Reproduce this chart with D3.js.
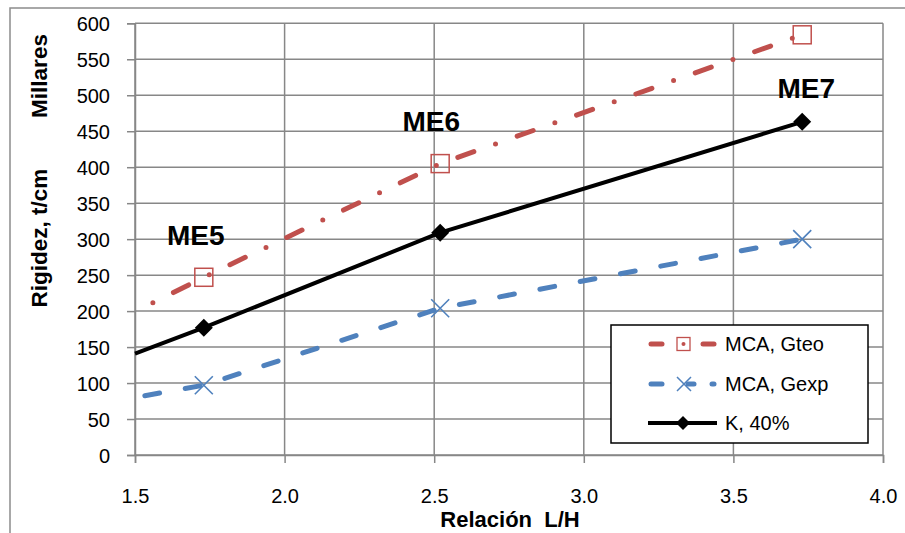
<!DOCTYPE html>
<html><head><meta charset="utf-8">
<script src="https://cdn.jsdelivr.net/npm/d3@7"></script>
<style>body{margin:0;background:#fff}svg{display:block}text{font-family:"Liberation Sans",Arial,sans-serif}</style>
</head><body><svg id="c" width="905" height="533"></svg>
<script>
// ---- data ----
const xTicks = [1.5, 2.0, 2.5, 3.0, 3.5, 4.0];
const yTicks = [0, 50, 100, 150, 200, 250, 300, 350, 400, 450, 500, 550, 600];
const xStart = 1.5;                       // start of drawn lines (no marker)
const xPoints = [1.73, 2.52, 3.73];       // L/H ratio for ME5, ME6, ME7
const pointLabels = ["ME5", "ME6", "ME7"];
const gteoStart = 199, gteo = [247, 405, 584];   // MCA, Gteo (millares t/cm)
const gexpStart = 80,  gexp = [97, 204, 300];    // MCA, Gexp
const kStart = 141,    k40 = [177, 309, 463];    // K, 40%
const seriesNames = ["MCA, Gteo", "MCA, Gexp", "K, 40%"];

const svg = d3.select("#c");
const x = d3.scaleLinear().domain([1.5, 4.0]).range([135, 883]);
const y = d3.scaleLinear().domain([0, 600]).range([455, 23.3]);
const RED = "#C0504D", BLUE = "#4F81BD", GRID = "#878787";

// outer frame
svg.append("rect").attr("x", 10).attr("y", 8).attr("width", 1000).attr("height", 1000)
  .attr("fill", "none").attr("stroke", "#8c8c8c").attr("stroke-width", 1.5);

// gridlines
svg.append("g").selectAll("line").data(yTicks).join("line")
  .attr("x1", x(1.5)).attr("x2", x(4.0)).attr("y1", d => y(d)).attr("y2", d => y(d))
  .attr("stroke", GRID).attr("stroke-width", 1.5);
svg.append("g").selectAll("line").data(xTicks).join("line")
  .attr("x1", d => x(d)).attr("x2", d => x(d)).attr("y1", y(600)).attr("y2", y(0))
  .attr("stroke", GRID).attr("stroke-width", 1.5);

// axes
const yAxis = svg.append("g").attr("transform", `translate(${x(1.5)},0)`)
  .call(d3.axisLeft(y).tickValues(yTicks).tickSize(8).tickPadding(17).tickFormat(d3.format("d")));
const xAxis = svg.append("g").attr("transform", `translate(0,${y(0)})`)
  .call(d3.axisBottom(x).tickValues(xTicks).tickSize(8).tickPadding(26).tickFormat(d3.format(".1f")));
[yAxis, xAxis].forEach(a => {
  a.select(".domain").attr("stroke", GRID).attr("stroke-width", 1.5);
  a.selectAll(".tick line").attr("stroke", GRID).attr("stroke-width", 1.5);
  a.selectAll(".tick text").attr("font-size", 20).attr("fill", "#000")
    .attr("font-family", "Liberation Sans, Arial, sans-serif");
});
yAxis.selectAll(".tick text").attr("dy", "0.36em");

// axis titles
svg.append("text").attr("transform", "translate(47,238) rotate(-90)")
  .attr("text-anchor", "middle").attr("font-weight", "bold").attr("font-size", 22.5).text("Rigidez, t/cm");
svg.append("text").attr("transform", "translate(47,76) rotate(-90)")
  .attr("text-anchor", "middle").attr("font-weight", "bold").attr("font-size", 22.5).text("Millares");
svg.append("text").attr("x", 510).attr("y", 527).attr("text-anchor", "middle")
  .attr("font-weight", "bold").attr("font-size", 22).attr("xml:space", "preserve").text("Relación  L/H");

// series
const mk = (s, v) => [[xStart, s]].concat(xPoints.map((p, i) => [p, v[i]]));
const line = d3.line().x(d => x(d[0])).y(d => y(d[1]));

svg.append("path").datum(mk(gteoStart, gteo)).attr("d", line).attr("fill", "none")
  .attr("stroke", RED).attr("stroke-width", 5).attr("stroke-linecap", "round")
  .attr("stroke-dasharray", "0,23,17,23").attr("stroke-dashoffset", 43);
svg.append("path").datum(mk(gexpStart, gexp)).attr("d", line).attr("fill", "none")
  .attr("stroke", BLUE).attr("stroke-width", 5).attr("stroke-linecap", "round")
  .attr("stroke-dasharray", "15,26").attr("stroke-dashoffset", 31);
svg.append("path").datum(mk(kStart, k40)).attr("d", line).attr("fill", "none")
  .attr("stroke", "#000").attr("stroke-width", 4).attr("stroke-linejoin", "round");

// markers
const sq = 18;
svg.append("g").selectAll("rect").data(xPoints.map((p, i) => [p, gteo[i]])).join("rect")
  .attr("x", d => x(d[0]) - sq / 2).attr("y", d => y(d[1]) - sq / 2).attr("width", sq).attr("height", sq)
  .attr("fill", "none").attr("stroke", RED).attr("stroke-width", 1.5);
svg.append("g").selectAll("path").data(xPoints.map((p, i) => [p, gexp[i]])).join("path")
  .attr("d", d => { const cx = x(d[0]), cy = y(d[1]), h = 9;
    return `M${cx - h},${cy - h}L${cx + h},${cy + h}M${cx - h},${cy + h}L${cx + h},${cy - h}`; })
  .attr("stroke", BLUE).attr("stroke-width", 1.6).attr("fill", "none");
svg.append("g").selectAll("path").data(xPoints.map((p, i) => [p, k40[i]])).join("path")
  .attr("d", d => { const cx = x(d[0]), cy = y(d[1]), h = 9;
    return `M${cx},${cy - h}L${cx + h},${cy}L${cx},${cy + h}L${cx - h},${cy}Z`; })
  .attr("fill", "#000");

// point labels (anchored above the Gteo point for ME5/ME6 and the K point for ME7)
const labelAnchor = [gteo[0], gteo[1], k40[2]];
const labelOffsets = [[-8, -32], [-9, -33], [4, -24]];
svg.append("g").selectAll("text").data(pointLabels).join("text")
  .attr("x", (d, i) => x(xPoints[i]) + labelOffsets[i][0])
  .attr("y", (d, i) => y(labelAnchor[i]) + labelOffsets[i][1])
  .attr("text-anchor", "middle").attr("font-weight", "bold").attr("font-size", 28).text(d => d);

// legend
const lg = svg.append("g");
lg.append("rect").attr("x", 611).attr("y", 325).attr("width", 257).attr("height", 118)
  .attr("fill", "#fff").attr("stroke", "#000").attr("stroke-width", 1.5);
const rows = [344, 384, 423];
// red
lg.append("line").attr("x1", 651).attr("x2", 662).attr("y1", rows[0]).attr("y2", rows[0])
  .attr("stroke", RED).attr("stroke-width", 5).attr("stroke-linecap", "round");
lg.append("line").attr("x1", 703).attr("x2", 714).attr("y1", rows[0]).attr("y2", rows[0])
  .attr("stroke", RED).attr("stroke-width", 5).attr("stroke-linecap", "round");
lg.append("rect").attr("x", 677).attr("y", rows[0] - 6.5).attr("width", 13).attr("height", 13)
  .attr("fill", "none").attr("stroke", RED).attr("stroke-width", 1.3);
lg.append("circle").attr("cx", 683.5).attr("cy", rows[0]).attr("r", 2).attr("fill", RED);
// blue
lg.append("line").attr("x1", 651).attr("x2", 662).attr("y1", rows[1]).attr("y2", rows[1])
  .attr("stroke", BLUE).attr("stroke-width", 5).attr("stroke-linecap", "round");
lg.append("line").attr("x1", 688).attr("x2", 694).attr("y1", rows[1]).attr("y2", rows[1])
  .attr("stroke", BLUE).attr("stroke-width", 5).attr("stroke-linecap", "round");
lg.append("line").attr("x1", 712).attr("x2", 714).attr("y1", rows[1]).attr("y2", rows[1])
  .attr("stroke", BLUE).attr("stroke-width", 5).attr("stroke-linecap", "round");
lg.append("path").attr("d", `M677,${rows[1] - 7}L691,${rows[1] + 7}M677,${rows[1] + 7}L691,${rows[1] - 7}`)
  .attr("stroke", BLUE).attr("stroke-width", 1.5);
// black
lg.append("line").attr("x1", 648).attr("x2", 717).attr("y1", rows[2]).attr("y2", rows[2])
  .attr("stroke", "#000").attr("stroke-width", 4);
lg.append("path").attr("d", `M683,${rows[2] - 7}L690,${rows[2]}L683,${rows[2] + 7}L676,${rows[2]}Z`).attr("fill", "#000");
lg.selectAll("text.lab").data(seriesNames).join("text").attr("class", "lab")
  .attr("x", 725).attr("y", (d, i) => rows[i] + 7).attr("font-size", 20).text(d => d);
</script></body></html>
